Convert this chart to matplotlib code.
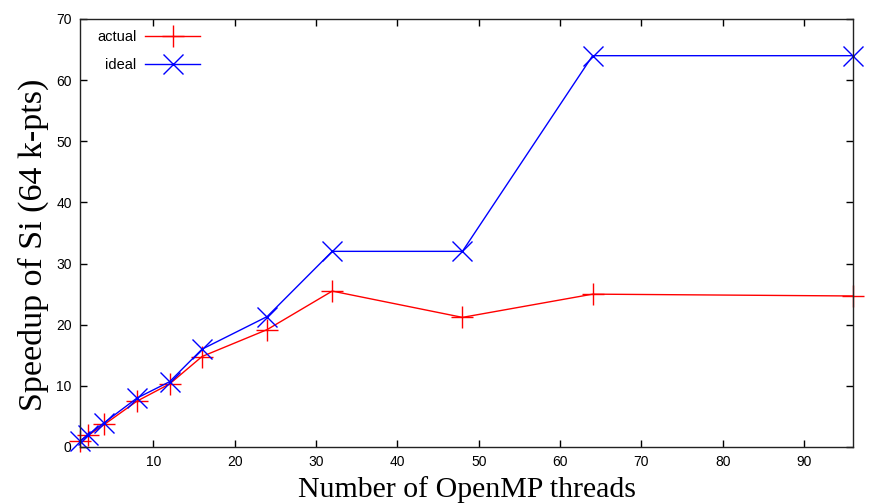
import matplotlib
matplotlib.use("Agg")
import matplotlib.pyplot as plt

threads = [1, 2, 4, 8, 12, 16, 24, 32, 48, 64, 96]
actual = [1.0, 1.9, 3.7, 7.5, 10.3, 14.8, 19.2, 25.5, 21.2, 25.0, 24.7]
ideal = [1, 2, 4, 8, 10.67, 16, 21.33, 32, 32, 64, 64]
xticks = [10, 20, 30, 40, 50, 60, 70, 80, 90]
yticks = [0, 10, 20, 30, 40, 50, 60, 70]

fig = plt.figure(figsize=(8.71, 5.04), dpi=100)
ax = fig.add_axes([80/871, 1-447/504, (853-80)/871, (447-19)/504])

ax.plot(threads, actual, color="#ff0000", lw=1.0, marker="+", ms=16, mew=1.0,
        label="actual", clip_on=False)
ax.plot(threads, ideal, color="#0000ff", lw=1.0, marker="x", ms=14, mew=1.0,
        label="ideal", clip_on=False)

ax.set_xlim(1, 96)
ax.set_ylim(0, 70)
ax.set_xticks(xticks)
ax.set_yticks(yticks)
ax.tick_params(direction="in", top=True, right=True, length=5, width=1,
               labelsize=10, pad=6)
for lab in ax.get_xticklabels() + ax.get_yticklabels():
    lab.set_fontfamily("Liberation Sans")
for s in ax.spines.values():
    s.set_linewidth(1.0)
    s.set_color("#222222")

ax.set_xlabel("Number of OpenMP threads", fontfamily="Liberation Serif",
              fontsize=21.5, labelpad=5)
ax.set_ylabel("Speedup of Si (64 k-pts)", fontfamily="Liberation Serif",
              fontsize=24.5)
ax.yaxis.set_label_coords(-0.040, 0.472)

leg = ax.legend(loc="upper left", markerfirst=False, frameon=False,
                handlelength=3.77, prop={"family": "Liberation Sans", "size": 10.5},
                borderaxespad=0, borderpad=0, labelspacing=1.0,
                handletextpad=0.62, bbox_to_anchor=(0.022, 0.975))

fig.savefig("out.png", dpi=100)
